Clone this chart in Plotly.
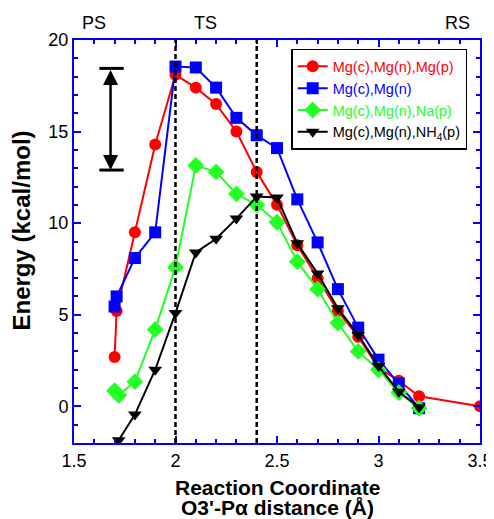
import plotly.graph_objects as go

# ---- data ----
red_x = [1.70, 1.71, 1.80, 1.90, 2.00, 2.10, 2.20, 2.30, 2.40, 2.50, 2.60, 2.70, 2.80, 2.90, 3.00, 3.10, 3.20, 3.50]
red_y = [2.7, 5.2, 9.5, 14.3, 18.1, 17.4, 16.5, 15.0, 12.8, 11.0, 8.8, 7.0, 5.2, 3.8, 2.1, 1.4, 0.55, 0.0]

blue_x = [1.70, 1.71, 1.80, 1.90, 2.00, 2.10, 2.20, 2.30, 2.40, 2.50, 2.60, 2.70, 2.80, 2.90, 3.00, 3.10, 3.20]
blue_y = [5.45, 6.0, 8.1, 9.5, 18.55, 18.5, 17.4, 15.75, 14.8, 14.1, 11.3, 8.95, 6.4, 4.3, 2.55, 1.25, -0.1]

green_x = [1.70, 1.72, 1.80, 1.90, 2.00, 2.10, 2.20, 2.30, 2.40, 2.50, 2.60, 2.70, 2.80, 2.90, 3.00, 3.10, 3.20]
green_y = [0.85, 0.6, 1.35, 4.2, 7.6, 13.15, 12.8, 11.6, 11.0, 10.05, 7.9, 6.4, 4.55, 3.0, 2.0, 0.75, -0.1]

black_x = [1.72, 1.80, 1.90, 2.00, 2.10, 2.20, 2.30, 2.40, 2.50, 2.60, 2.70, 2.80, 2.90, 3.00, 3.10, 3.20]
black_y = [-1.85, -0.45, 2.0, 5.1, 8.4, 9.15, 10.25, 11.45, 11.4, 8.9, 7.25, 5.35, 3.9, 2.2, 0.8, -0.05]

series_names = ["Mg(c),Mg(n),Mg(p)", "Mg(c),Mg(n)", "Mg(c),Mg(n),Na(p)", "Mg(c),Mg(n),NH<sub>4</sub>(p)"]
series_colors = ["#ff0000", "#0000ff", "#22ff22", "#000000"]
series_symbols = ["circle", "square", "diamond", "triangle-down"]

x_ticks = [1.5, 2, 2.5, 3, 3.5]
x_tick_labels = ["1.5", "2", "2.5", "3", "3.5"]
y_ticks = [0, 5, 10, 15, 20]
y_tick_labels = ["0", "5", "10", "15", "20"]

x_title_lines = ["Reaction Coordinate", "O3'-P\u03b1 distance (\u00c5)"]
y_title = "Energy (kcal/mol)"

dashed_x = [2.0, 2.4]
state_labels = ["PS", "TS", "RS"]
state_x = [1.598, 2.15, 3.387]

arrow_x = 1.68
arrow_bar = [1.625, 1.745]
arrow_y = [12.9, 18.45]

fig = go.Figure()
xs = [red_x, blue_x, green_x, black_x]
ys = [red_y, blue_y, green_y, black_y]
sizes = [12, 12, 13, 12]
for xv, yv, nm, c, s, sz in zip(xs, ys, series_names, series_colors, series_symbols, sizes):
    fig.add_trace(go.Scatter(
        x=xv, y=yv, mode="lines+markers",
        name=f"<span style='color:{c}'>{nm}</span>",
        line=dict(color=c, width=2),
        marker=dict(symbol=s, size=sz, color=c),
    ))

for dx in dashed_x:
    fig.add_shape(type="line", x0=dx, x1=dx, y0=0, y1=1, xref="x", yref="paper",
                  line=dict(color="black", width=2.5, dash="5px,3px"), layer="above")

# double arrow
fig.add_annotation(x=arrow_x, y=arrow_y[0], ax=arrow_x, ay=arrow_y[1], xref="x", yref="y",
                   axref="x", ayref="y", showarrow=True, arrowhead=2, arrowsize=1.2,
                   arrowwidth=2.5, arrowcolor="black", startarrowhead=2, arrowside="end+start",
                   startarrowsize=1.2, text="")
for yy in arrow_y:
    fig.add_shape(type="line", x0=arrow_bar[0], x1=arrow_bar[1], y0=yy, y1=yy,
                  xref="x", yref="y", line=dict(color="black", width=3))

for lab, sx in zip(state_labels, state_x):
    fig.add_annotation(x=sx, y=1.0, xref="x", yref="paper", yanchor="bottom", yshift=5,
                       text=lab, showarrow=False, font=dict(size=18, color="black"))

# axis titles
fig.add_annotation(x=0.5, y=0, xref="paper", yref="paper", yanchor="middle", yshift=-44,
                   text=f"<b>{x_title_lines[0]}</b>", showarrow=False,
                   font=dict(size=21, color="black"))
fig.add_annotation(x=0.5, y=0, xref="paper", yref="paper", yanchor="middle", yshift=-64,
                   text=f"<b>{x_title_lines[1]}</b>", showarrow=False,
                   font=dict(size=21, color="black"))
fig.add_annotation(x=0, y=0.5, xref="paper", yref="paper", xanchor="center", yanchor="middle",
                   xshift=-53, yshift=11, textangle=-90,
                   text=f"<b>{y_title}</b>", showarrow=False,
                   font=dict(size=24, color="black"))

axis_common = dict(
    showline=True, linecolor="#0000ff", linewidth=2, mirror="ticks",
    ticks="inside", tickcolor="#0000ff", ticklen=7, tickwidth=1.5,
    showgrid=False, zeroline=False, automargin=False,
    tickfont=dict(size=18, color="black"),
)
fig.update_xaxes(range=[1.5, 3.5], tickvals=x_ticks, ticktext=x_tick_labels,
                 minor=dict(ticks="inside", dtick=0.1, ticklen=4, tickcolor="#0000ff", tickwidth=1.5),
                 **axis_common)
fig.update_yaxes(range=[-2, 20], tickvals=y_ticks, ticktext=y_tick_labels,
                 minor=dict(ticks="inside", dtick=1, ticklen=4, tickcolor="#0000ff", tickwidth=1.5),
                 **axis_common)

# page body adds an 8px offset, so the figure is 8px smaller and margins shifted
fig.update_layout(
    width=486, height=511,
    margin=dict(l=66, r=14, t=32, b=76),
    plot_bgcolor="white", paper_bgcolor="white",
    font=dict(family="Liberation Sans, Arial, sans-serif", color="black"),
    legend=dict(x=0.535, y=0.978, xanchor="left", yanchor="top",
                bordercolor="black", borderwidth=1.5, bgcolor="white",
                font=dict(size=14.5), tracegroupgap=0, itemwidth=30),
)

fig.write_html("out.html")
